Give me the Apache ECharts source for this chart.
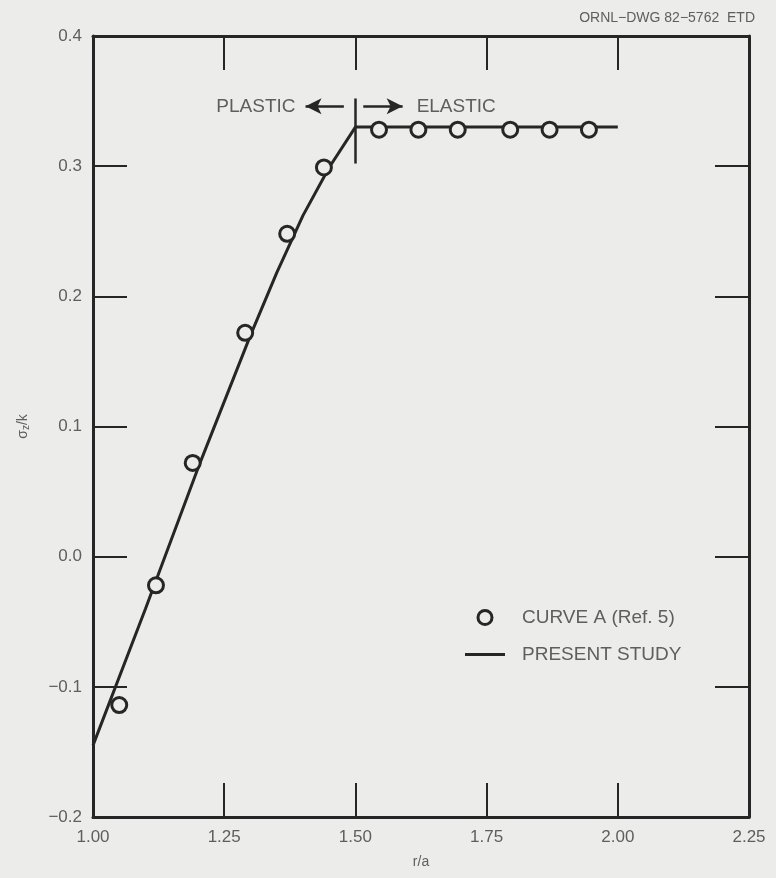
<!DOCTYPE html>
<html>
<head>
<meta charset="utf-8">
<script src="https://cdn.jsdelivr.net/npm/echarts@6/dist/echarts.min.js"></script>
<style>
  html, body { margin: 0; padding: 0; background: #ececea; }
  #chart { width: 776px; height: 878px; }
</style>
</head>
<body>
<div id="chart"></div>
<script>
// Curve A (Ref. 5): open circles
const curveAX = [1.05, 1.12, 1.19, 1.29, 1.37, 1.44, 1.545, 1.62, 1.695, 1.795, 1.87, 1.945];
const curveAY = [-0.114, -0.022, 0.072, 0.172, 0.248, 0.299, 0.328, 0.328, 0.328, 0.328, 0.328, 0.328];

// Present study: solid line
const studyX = [1.00, 1.10, 1.20, 1.30, 1.35, 1.40, 1.45, 1.50, 2.00];
const studyY = [-0.145, -0.04, 0.068, 0.17, 0.218, 0.262, 0.299, 0.33, 0.33];

// Plastic / elastic boundary
const boundaryX = 1.50;
const boundaryY = [0.352, 0.302];
const arrowY = 0.346;
const plasticArrowX = [1.478, 1.405];
const elasticArrowX = [1.515, 1.59];

const ink = '#262626';
const grey = '#5e5e5e';
const font = 'Liberation Sans';

const pairs = (xs, ys) => xs.map((x, i) => [x, ys[i]]);
const fmtY = v => (v < 0 ? '\u2212' : '') + Math.abs(v).toFixed(1);

const axisLine = { onZero: false, lineStyle: { color: ink, width: 3 } };
const tickInside = { inside: true, length: 34, lineStyle: { color: ink, width: 2 } };

const chart = echarts.init(document.getElementById('chart'));
chart.setOption({
  backgroundColor: '#ececea',
  animation: false,
  textStyle: { fontFamily: font },
  title: {
    text: 'ORNL\u2212DWG 82\u22125762  ETD',
    right: 16, top: 6,
    textStyle: { fontSize: 14, fontWeight: 'normal', color: grey, fontFamily: font }
  },
  grid: { left: 93, top: 36, right: 27, bottom: 61 },
  legend: {
    orient: 'vertical',
    left: 465, top: 608, padding: 0,
    itemWidth: 40, itemHeight: 14, itemGap: 18,
    textStyle: { fontSize: 19, color: grey, padding: [0, 0, 0, 12] },
    data: [
      { name: 'CURVE A (Ref. 5)', icon: 'circle',
        itemStyle: { color: 'transparent', borderColor: ink, borderWidth: 3 } },
      { name: 'PRESENT STUDY', icon: 'path://M0,0H40V3H0Z',
        itemStyle: { color: ink, borderWidth: 0 } }
    ]
  },
  xAxis: [
    {
      type: 'value', min: 1.0, max: 2.25, interval: 0.25,
      name: 'r/a', nameLocation: 'middle', nameGap: 38,
      nameTextStyle: { fontSize: 14, color: grey },
      axisLine, axisTick: tickInside, splitLine: { show: false },
      axisLabel: { fontSize: 17, color: grey, margin: 12, formatter: v => v.toFixed(2) }
    },
    {
      type: 'value', position: 'top', min: 1.0, max: 2.25, interval: 0.25,
      axisLine, axisTick: tickInside, splitLine: { show: false },
      axisLabel: { show: false }
    }
  ],
  yAxis: [
    {
      type: 'value', min: -0.2, max: 0.4, interval: 0.1,
      name: '{a|\u03c3}{b|z}{a|/k}', nameLocation: 'middle', nameGap: 62, nameRotate: 90,
      nameTextStyle: {
        rich: {
          a: { fontSize: 14, color: grey, fontFamily: font },
          b: { fontSize: 10, color: grey, fontFamily: font, padding: [6, 0, 0, 0] }
        }
      },
      axisLine, axisTick: tickInside, splitLine: { show: false },
      axisLabel: { fontSize: 17, color: grey, margin: 11, formatter: fmtY }
    },
    {
      type: 'value', position: 'right', min: -0.2, max: 0.4, interval: 0.1,
      axisLine, axisTick: tickInside, splitLine: { show: false },
      axisLabel: { show: false }
    }
  ],
  series: [
    {
      name: 'PRESENT STUDY', type: 'line', smooth: false,
      data: pairs(studyX, studyY),
      symbol: 'none',
      lineStyle: { color: ink, width: 3 },
      itemStyle: { color: ink },
      z: 3,
      markLine: {
        silent: true, animation: false,
        symbol: ['none', 'arrow'], symbolSize: [12, 16],
        lineStyle: { color: ink, width: 2.5, type: 'solid' },
        label: { show: true, position: 'end', fontSize: 19, color: grey, fontFamily: font },
        data: [
          [ { coord: [plasticArrowX[0], arrowY] },
            { coord: [plasticArrowX[1], arrowY],
              label: { formatter: 'PLASTIC', distance: 10 } } ],
          [ { coord: [elasticArrowX[0], arrowY] },
            { coord: [elasticArrowX[1], arrowY],
              label: { formatter: 'ELASTIC', distance: 14 } } ],
          [ { coord: [boundaryX, boundaryY[0]], symbol: 'none' },
            { coord: [boundaryX, boundaryY[1]], symbol: 'none', label: { show: false } } ]
        ]
      }
    },
    {
      name: 'CURVE A (Ref. 5)', type: 'scatter',
      data: pairs(curveAX, curveAY),
      symbol: 'circle', symbolSize: 15,
      itemStyle: { color: '#ececea', borderColor: ink, borderWidth: 3, opacity: 1 },
      z: 4
    }
  ]
});
</script>
</body>
</html>
